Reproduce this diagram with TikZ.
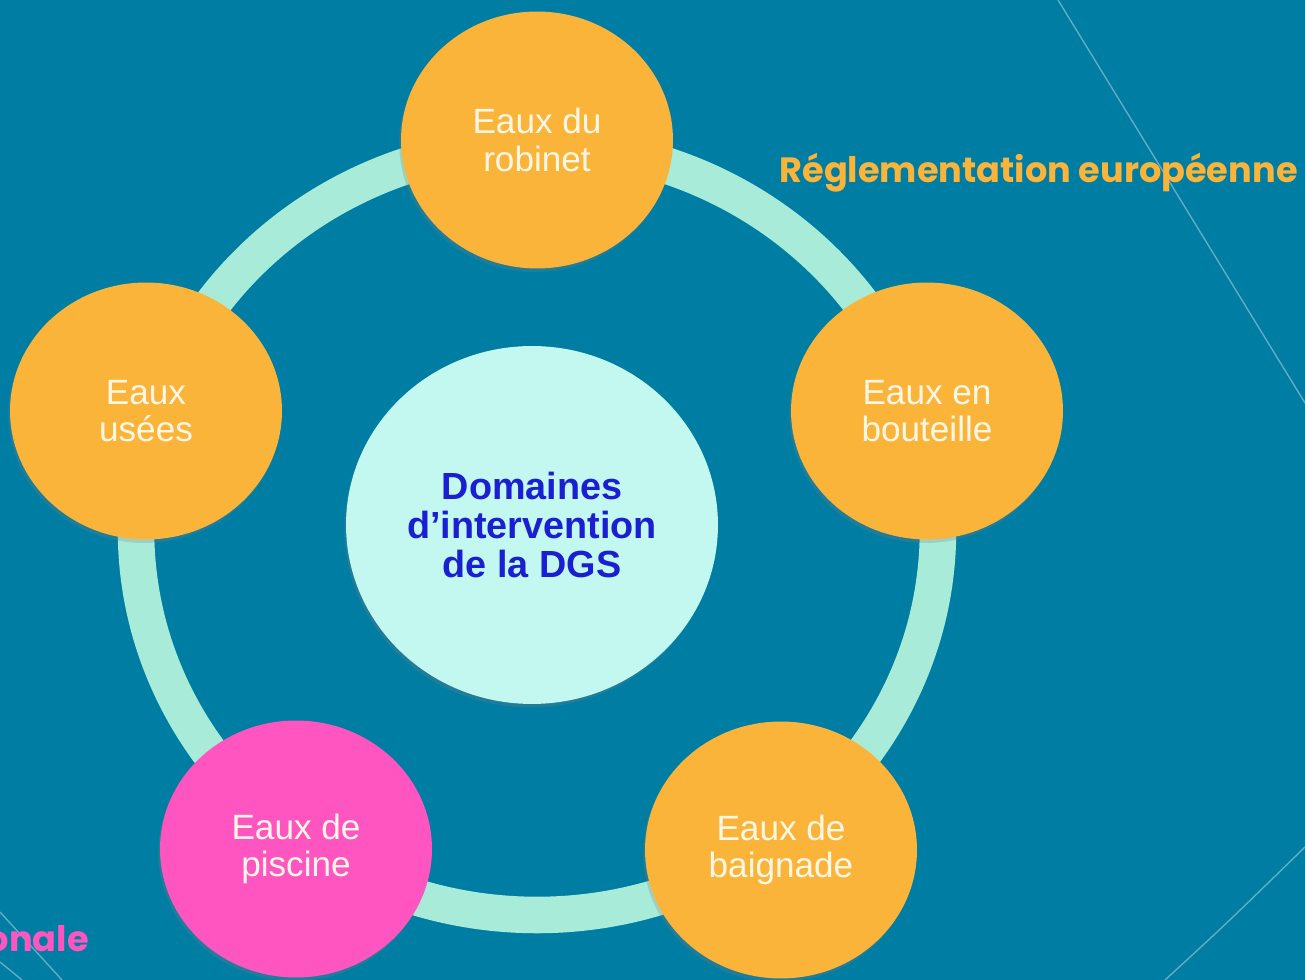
\documentclass[tikz,border=0pt]{standalone}
\usepackage{fontspec}
\setmainfont{Liberation Sans}
\newfontfamily\headfont{Poppins}
\usetikzlibrary{shadows,shapes.geometric}

% colours
\definecolor{bgblue}{HTML}{007DA3}
\definecolor{ringmint}{HTML}{A8EBD8}
\definecolor{domorange}{HTML}{FBB43A}
\definecolor{dompink}{HTML}{FF55C0}
\definecolor{centrecyan}{HTML}{C2F8EF}
\definecolor{centreblue}{HTML}{1A1FD2}
\definecolor{labelcream}{HTML}{FFF7E6}
\definecolor{decoline}{HTML}{63ABC6}

\begin{document}
\begin{tikzpicture}[x=0.02cm,y=0.02cm,
	field/.style={ellipse, fill=domorange, minimum width=5.44cm, minimum height=5.14cm, inner sep=0pt,
		align=center, text=labelcream, font=\fontsize{20}{21.3}\selectfont,
		drop shadow={shadow xshift=-1pt, shadow yshift=-2pt, opacity=0.25}},
	centre/.style={ellipse, fill=centrecyan, minimum width=7.44cm, minimum height=7.16cm, inner sep=0pt,
		align=center, text=centreblue, font=\bfseries\fontsize{21.5}{22.2}\selectfont,
		drop shadow={shadow xshift=-1pt, shadow yshift=-2pt, opacity=0.25}},
	ring/.style={draw=ringmint, line width=20.8pt},
	deco/.style={draw=decoline, line width=0.8pt},
	reg/.style={inner sep=0pt, font=\headfont\bfseries\fontsize{20}{22}\selectfont}]

	% picture frame, in pixels of the slide
	\useasboundingbox (0,0) rectangle (1305,980);
	\clip (0,0) rectangle (1305,980);
	\fill[bgblue] (0,0) rectangle (1305,980);

	% thin lines of the slide background
	\draw[deco] (1058,980) -- (1305,577);
	\draw[deco] (1165,0) .. controls (1225,55) .. (1305,133);
	\draw[deco] (0,68) -- (62,0);
	\draw[deco] (0,18) -- (22,0);

	% the ring joining the fields
	\draw[ring] (537,450) ellipse [x radius=401, y radius=385];

	% centre
	\node[centre] (dgs) at (532,455) {Domaines\\d'intervention\\de la DGS};

	% fields round the ring
	\node[field] (robinet) at (537,840) {Eaux du\\robinet};
	\node[field] (bouteille) at (927,569) {Eaux en\\bouteille};
	\node[field] (baignade) at (781,130) {Eaux de\\baignade};
	\node[field, fill=dompink] (piscine) at (296,131) {Eaux de\\piscine};
	\node[field] (usees) at (146,569) {Eaux\\usées};

	% regulation labels
	\node[reg, text=domorange, anchor=base east] (europe) at (1298,797) {Réglementation européenne};
	\node[reg, text=dompink, anchor=base east] (nation) at (89,28) {onale};

\end{tikzpicture}
\end{document}
